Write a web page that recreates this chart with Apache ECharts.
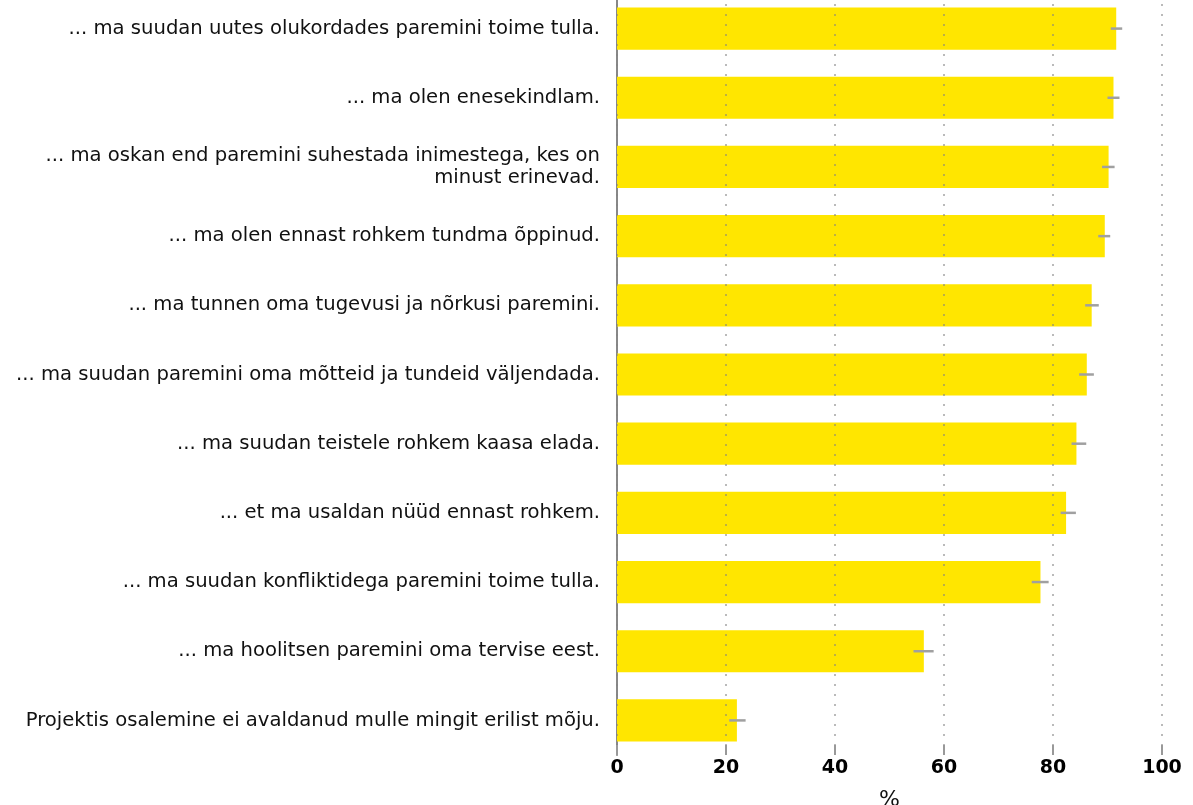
<!DOCTYPE html>
<html>
<head>
<meta charset="utf-8">
<script src="https://cdn.jsdelivr.net/npm/echarts@6/dist/echarts.min.js"></script>
<style>
html,body{margin:0;padding:0;background:#fff;}
#chart{width:1193px;height:805px;}
</style>
</head>
<body>
<div id="chart"></div>
<script>
var categories = [
  "... ma suudan uutes olukordades paremini toime tulla.",
  "... ma olen enesekindlam.",
  "... ma oskan end paremini suhestada inimestega, kes on\nminust erinevad.",
  "... ma olen ennast rohkem tundma õppinud.",
  "... ma tunnen oma tugevusi ja nõrkusi paremini.",
  "... ma suudan paremini oma mõtteid ja tundeid väljendada.",
  "... ma suudan teistele rohkem kaasa elada.",
  "... et ma usaldan nüüd ennast rohkem.",
  "... ma suudan konfliktidega paremini toime tulla.",
  "... ma hoolitsen paremini oma tervise eest.",
  "Projektis osalemine ei avaldanud mulle mingit erilist mõju."
];
var values = [91.6, 91.1, 90.2, 89.5, 87.1, 86.2, 84.3, 82.4, 77.7, 56.3, 22.0];
var errLow = [90.6, 90.0, 89.0, 88.3, 85.9, 84.8, 83.4, 81.4, 76.1, 54.4, 20.6];
var errHigh = [92.7, 92.2, 91.3, 90.5, 88.4, 87.5, 86.1, 84.2, 79.2, 58.1, 23.6];
var xTicks = [0, 20, 40, 60, 80, 100];

var FONT = '"DejaVu Sans", Verdana, sans-serif';
var chart = echarts.init(document.getElementById('chart'), null, {renderer: 'canvas'});
var errData = categories.map(function (c, i) { return [i, errLow[i], errHigh[i]]; });

chart.setOption({
  animation: false,
  grid: {left: 617, right: 31, top: -6, bottom: 50, containLabel: false, outerBoundsMode: 'none'},
  xAxis: {
    type: 'value',
    min: xTicks[0],
    max: xTicks[xTicks.length - 1],
    interval: 20,
    z: 3,
    name: '%',
    nameLocation: 'middle',
    nameGap: 34,
    nameTextStyle: {fontFamily: FONT, fontSize: 22, color: '#111'},
    axisLine: {show: false},
    axisTick: {show: true, inside: true, length: 10, lineStyle: {color: '#999', width: 2}},
    axisLabel: {fontFamily: FONT, fontSize: 19, fontWeight: 'bold', color: '#000', margin: 4},
    splitLine: {show: true, lineStyle: {color: 'rgba(130,130,130,0.55)', type: [2, 8], width: 2}}
  },
  yAxis: {
    type: 'category',
    data: categories,
    inverse: true,
    axisLine: {show: true, lineStyle: {color: '#888', width: 2}},
    axisTick: {show: false},
    axisLabel: {fontFamily: FONT, fontSize: 19.6, color: '#111', margin: 17, align: 'right', lineHeight: 22}
  },
  series: [
    {
      type: 'bar',
      data: values,
      barWidth: '61%',
      itemStyle: {color: '#FFE600'},
      z: 2
    },
    {
      type: 'custom',
      data: errData,
      encode: {y: 0, x: [1, 2]},
      z: 4,
      renderItem: function (params, api) {
        var y = api.value(0);
        var p1 = api.coord([api.value(1), y]);
        var p2 = api.coord([api.value(2), y]);
        return {
          type: 'line',
          shape: {x1: p1[0], y1: p1[1], x2: p2[0], y2: p2[1]},
          style: {stroke: '#a0a0a0', lineWidth: 2.5}
        };
      }
    }
  ]
});
</script>
</body>
</html>
